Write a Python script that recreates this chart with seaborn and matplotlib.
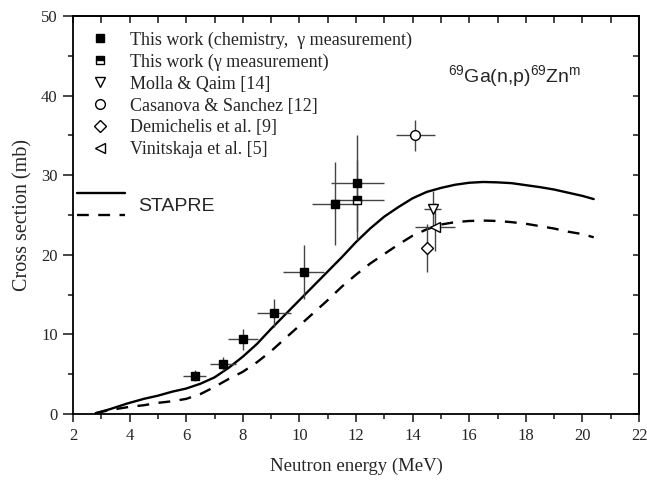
import numpy as np
import pandas as pd
import matplotlib
matplotlib.use("Agg")
import matplotlib.pyplot as plt
import seaborn as sns
from matplotlib.lines import Line2D
from matplotlib.legend_handler import HandlerBase
from matplotlib.ticker import MultipleLocator

# ---------------- data ----------------
chem_x = [6.3, 7.3, 8.0, 9.1, 10.15, 11.25, 12.05]
chem_y = [4.8, 6.3, 9.4, 12.7, 17.8, 26.4, 29.0]
chem_xerr = [0.4, 0.46, 0.53, 0.6, 0.73, 0.8, 0.94]
chem_yerr = [0.7, 0.9, 1.3, 1.8, 3.4, 5.2, 6.0]

gamma_x = [12.05]
gamma_y = [26.9]
gamma_xerr = [0.94]
gamma_yerr = [5.0]

molla_x = [14.72]
molla_y = [25.8]
molla_xerr = [0.3]
molla_yerr = [2.2]

casanova_x = [14.1]
casanova_y = [35.0]
casanova_xerr = [0.7]
casanova_yerr = [1.9]

demich_x = [14.5]
demich_y = [20.9]
demich_yerr = [3.0]

vinit_x = [14.8]
vinit_y = [23.5]
vinit_xerr = [0.7]
vinit_yerr = [3.0]

stapre1_x = [2.8, 3.3, 3.9, 4.5, 5.0, 5.5, 6.0, 6.5, 7.0, 7.5, 8.0, 8.5, 9.0, 9.5, 10.0,
             10.5, 11.0, 11.5, 12.0, 12.5, 13.0, 13.5, 14.0, 14.5, 15.0, 15.5, 16.0, 16.5,
             17.0, 17.5, 18.0, 18.5, 19.0, 19.5, 20.0, 20.4]
stapre1_y = [0.1, 0.6, 1.3, 1.9, 2.3, 2.8, 3.2, 3.8, 4.6, 5.8, 7.2, 8.8, 10.7, 12.5, 14.3,
             16.1, 17.9, 19.7, 21.6, 23.3, 24.8, 26.0, 27.1, 27.9, 28.4, 28.8, 29.05, 29.15,
             29.1, 29.0, 28.75, 28.5, 28.2, 27.8, 27.4, 27.0]

stapre2_x = [2.8, 3.3, 4.0, 4.5, 5.0, 5.5, 6.0, 6.5, 7.0, 7.5, 8.0, 8.5, 9.0, 9.5, 10.0,
             10.5, 11.0, 11.5, 12.0, 12.5, 13.0, 13.5, 14.0, 14.5, 15.0, 15.5, 16.0, 16.5,
             17.0, 17.5, 18.0, 18.5, 19.0, 19.5, 20.0, 20.4]
stapre2_y = [0.1, 0.5, 0.9, 1.1, 1.4, 1.6, 1.9, 2.5, 3.4, 4.4, 5.3, 6.5, 7.9, 9.5, 11.1,
             12.7, 14.3, 16.0, 17.5, 18.9, 20.1, 21.3, 22.4, 23.2, 23.8, 24.1, 24.25, 24.3,
             24.25, 24.1, 23.9, 23.6, 23.3, 22.9, 22.6, 22.2]

x_ticks = [2, 4, 6, 8, 10, 12, 14, 16, 18, 20, 22]
y_ticks = [0, 10, 20, 30, 40, 50]

labels = ["This work (chemistry,  \u03b3 measurement)",
          "This work (\u03b3 measurement)",
          "Molla & Qaim [14]",
          "Casanova & Sanchez [12]",
          "Demichelis et al. [9]",
          "Vinitskaja et al. [5]"]

# ---------------- style ----------------
sns.set_style("ticks")
plt.rcParams["font.family"] = ["Liberation Serif", "DejaVu Serif"]
plt.rcParams["mathtext.fontset"] = "custom"
plt.rcParams["mathtext.rm"] = "Liberation Sans"
plt.rcParams["mathtext.it"] = "Liberation Sans"
plt.rcParams["axes.linewidth"] = 1.3

fig = plt.figure(figsize=(6.47, 4.93), dpi=100)
ax = fig.add_axes([73 / 647, 79 / 493, 566 / 647, 398 / 493])

# model curves
df1 = pd.DataFrame({"E": stapre1_x, "sigma": stapre1_y})
df2 = pd.DataFrame({"E": stapre2_x, "sigma": stapre2_y})
sns.lineplot(data=df1, x="E", y="sigma", ax=ax, color="black", lw=1.7, sort=False, zorder=2)
sns.lineplot(data=df2, x="E", y="sigma", ax=ax, color="black", lw=1.7, sort=False,
             linestyle=(0, (5, 4)), zorder=2)

ecol = "#444444"
ekw = dict(fmt="none", ecolor=ecol, elinewidth=1.0, capsize=0, zorder=3)
ax.errorbar(chem_x, chem_y, xerr=chem_xerr, yerr=chem_yerr, **ekw)
ax.errorbar(gamma_x, gamma_y, xerr=gamma_xerr, yerr=gamma_yerr, **ekw)
ax.errorbar(molla_x, molla_y, xerr=molla_xerr, yerr=molla_yerr, **ekw)
ax.errorbar(casanova_x, casanova_y, xerr=casanova_xerr, yerr=casanova_yerr, **ekw)
ax.errorbar(demich_x, demich_y, yerr=demich_yerr, **ekw)
ax.errorbar(vinit_x, vinit_y, xerr=vinit_xerr, yerr=vinit_yerr, **ekw)

mkw = dict(linestyle="none", markeredgecolor="black", markeredgewidth=1.0, zorder=4)
h1, = ax.plot(chem_x, chem_y, marker="s", ms=6, color="black", **mkw)
h2, = ax.plot(gamma_x, gamma_y, marker="s", ms=6, color="black", fillstyle="top",
              markerfacecoloralt="white", **mkw)
h3, = ax.plot(molla_x, molla_y, marker="v", ms=7.5, markerfacecolor="white", **mkw)
h4, = ax.plot(casanova_x, casanova_y, marker="o", ms=7, markerfacecolor="white", **mkw)
h5, = ax.plot(demich_x, demich_y, marker="D", ms=6, markerfacecolor="white", **mkw)
h6, = ax.plot(vinit_x, vinit_y, marker="<", ms=7.5, markerfacecolor="white", **mkw)

ax.set_xlim(2, 22)
ax.set_ylim(0, 50)
ax.set_xticks(x_ticks)
ax.set_yticks(y_ticks)
ax.xaxis.set_minor_locator(MultipleLocator(1))
ax.yaxis.set_minor_locator(MultipleLocator(5))
ax.tick_params(which="major", direction="out", length=6, width=1.2, labelsize=12, pad=4,
               top=False, right=False)
ax.tick_params(which="minor", direction="out", length=3.5, width=1.2, top=False, right=False)
ax.tick_params(axis="y", which="major", length=7)

sx = ax.secondary_xaxis("top")
sx.set_xticks(x_ticks)
sx.xaxis.set_minor_locator(MultipleLocator(1))
sx.tick_params(which="both", direction="in", length=5, width=1.2, labeltop=False)
sy = ax.secondary_yaxis("right")
sy.set_yticks(y_ticks)
sy.yaxis.set_minor_locator(MultipleLocator(5))
sy.tick_params(which="both", direction="in", length=4, width=1.2, labelright=False)

for s in ax.spines.values():
    s.set_visible(True)
    s.set_linewidth(1.3)
    s.set_color("black")

ax.set_xlabel("Neutron energy (MeV)", fontsize=13.5, labelpad=10)
ax.set_ylabel("Cross section (mb)", fontsize=14.5, labelpad=6)

# legend of data sets
leg1 = ax.legend([h1, h2, h3, h4, h5, h6], labels, loc="upper left",
                 bbox_to_anchor=(0.004, 1.0), frameon=False, fontsize=13,
                 handlelength=1.0, handletextpad=1.2, labelspacing=0.27,
                 borderaxespad=0.4, borderpad=0.45)
ax.add_artist(leg1)


class TwoLineHandler(HandlerBase):
    def create_artists(self, legend, orig_handle, xdescent, ydescent, width, height,
                       fontsize, trans):
        yc = height / 2 - ydescent
        off = 11 * 72 / 100
        l1 = Line2D([-xdescent, -xdescent + width], [yc + off, yc + off], color="black",
                    lw=1.7, transform=trans)
        l2 = Line2D([-xdescent, -xdescent + width], [yc - off, yc - off], color="black",
                    lw=1.7, linestyle=(0, (5, 4)), transform=trans)
        return [l1, l2]


dummy = Line2D([], [])
leg2 = ax.legend([dummy], ["STAPRE"], handler_map={Line2D: TwoLineHandler()},
                 loc="center left", bbox_to_anchor=(0.0, 0.522), frameon=False,
                 prop={"family": "Liberation Sans", "size": 14},
                 handlelength=2.47, handletextpad=0.67, borderaxespad=0, borderpad=0.2)

ax.text(0.663, 0.85, r"$^{69}$Ga(n,p)$^{69}$Zn$^{m}$", transform=ax.transAxes,
        ha="left", va="center", fontsize=14, family="Liberation Sans")

fig.savefig("out.png", dpi=100)
